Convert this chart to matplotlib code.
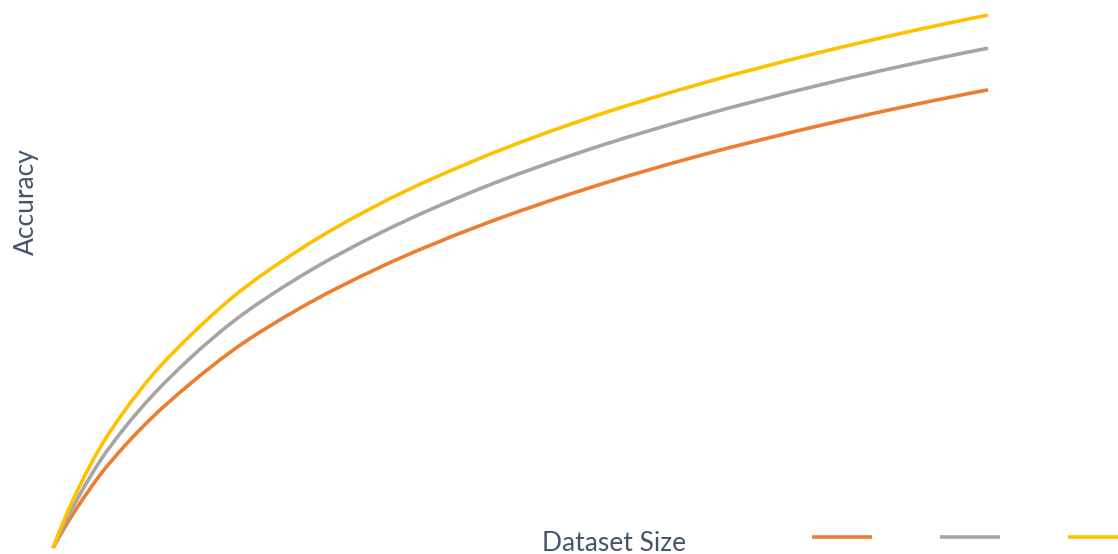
import numpy as np
import matplotlib
matplotlib.use("Agg")
import matplotlib.pyplot as plt
from matplotlib.path import Path
from matplotlib.patches import PathPatch
from matplotlib.lines import Line2D

# ================================ Data =====================================
# dataset size (relative units) and accuracy
dataset_size = [0, 1.3, 2.9, 5.0, 7.7, 10.4, 14.7, 18.9, 26.4, 35.0, 45.7, 56.4, 69.2, 82.0, 100]
acc_orange = [0, 4.0, 8.4, 13.6, 19.2, 24.1, 30.8, 36.6, 44.9, 52.6, 60.4, 66.9, 73.5, 79.1, 85.8]
acc_gray = [0, 4.8, 10.1, 16.2, 22.6, 28.1, 35.6, 41.9, 50.8, 59.0, 67.3, 74.1, 80.9, 86.7, 93.6]
acc_yellow = [0, 5.7, 11.8, 18.7, 25.8, 31.9, 39.8, 46.5, 55.9, 64.5, 73.0, 80.0, 86.9, 92.8, 99.8]

COLORS = ["#ED7D31", "#A5A5A5", "#FFC000"]
TEXT_COLOR = "#44546A"
LW = 2.6
FS = 19

plt.rcParams["font.family"] = ["Lato", "DejaVu Sans"]


# ============================ Smoothed line =================================
def smooth_path(xs, ys):
    # smoothed line: cubic Hermite segments (in x) drawn as Beziers
    x = np.asarray(xs, float)
    y = np.asarray(ys, float)
    h = np.diff(x)
    s = np.diff(y) / h
    m = np.empty_like(y)
    m[1:-1] = (s[1:] * h[:-1] + s[:-1] * h[1:]) / (h[:-1] + h[1:])
    m[0] = ((2 * h[0] + h[1]) * s[0] - h[0] * s[1]) / (h[0] + h[1])
    m[-1] = ((2 * h[-1] + h[-2]) * s[-1] - h[-1] * s[-2]) / (h[-1] + h[-2])
    verts = [(x[0], y[0])]
    codes = [Path.MOVETO]
    for i in range(len(x) - 1):
        d = h[i] / 3
        verts += [(x[i] + d, y[i] + m[i] * d), (x[i + 1] - d, y[i + 1] - m[i + 1] * d), (x[i + 1], y[i + 1])]
        codes += [Path.CURVE4] * 3
    return Path(verts, codes)


# ================================ Plot =====================================
fig = plt.figure(figsize=(11.18, 5.54), dpi=100)
ax = fig.add_axes([53 / 1118, 6 / 554, 935 / 1118, 534 / 554])
ax.set_xlim(0, 100)
ax.set_ylim(0, 100)
ax.axis("off")

handles = []
for series, color in zip([acc_orange, acc_gray, acc_yellow], COLORS):
    patch = PathPatch(smooth_path(dataset_size, series), facecolor="none",
                      edgecolor=color, lw=LW, capstyle="butt", clip_on=False)
    ax.add_patch(patch)
    handles.append(Line2D([], [], color=color, lw=LW, solid_capstyle="butt"))

fig.text(26 / 1118, 1 - 202 / 554, "Accuracy", rotation=90, ha="center", va="center",
         fontsize=FS, color=TEXT_COLOR)
fig.text(614 / 1118, 1 - 551 / 554, "Dataset Size", ha="center", va="baseline",
         fontsize=FS, color=TEXT_COLOR)

fig.legend(handles, ["", "", ""], loc="center left", bbox_to_anchor=(812 / 1118, 1 - 539 / 554),
           ncol=3, frameon=False, fontsize=17.5, handlelength=2.47, handletextpad=0,
           columnspacing=2.8, borderpad=0, borderaxespad=0)

plt.savefig("out.png", dpi=100)
plt.close()
